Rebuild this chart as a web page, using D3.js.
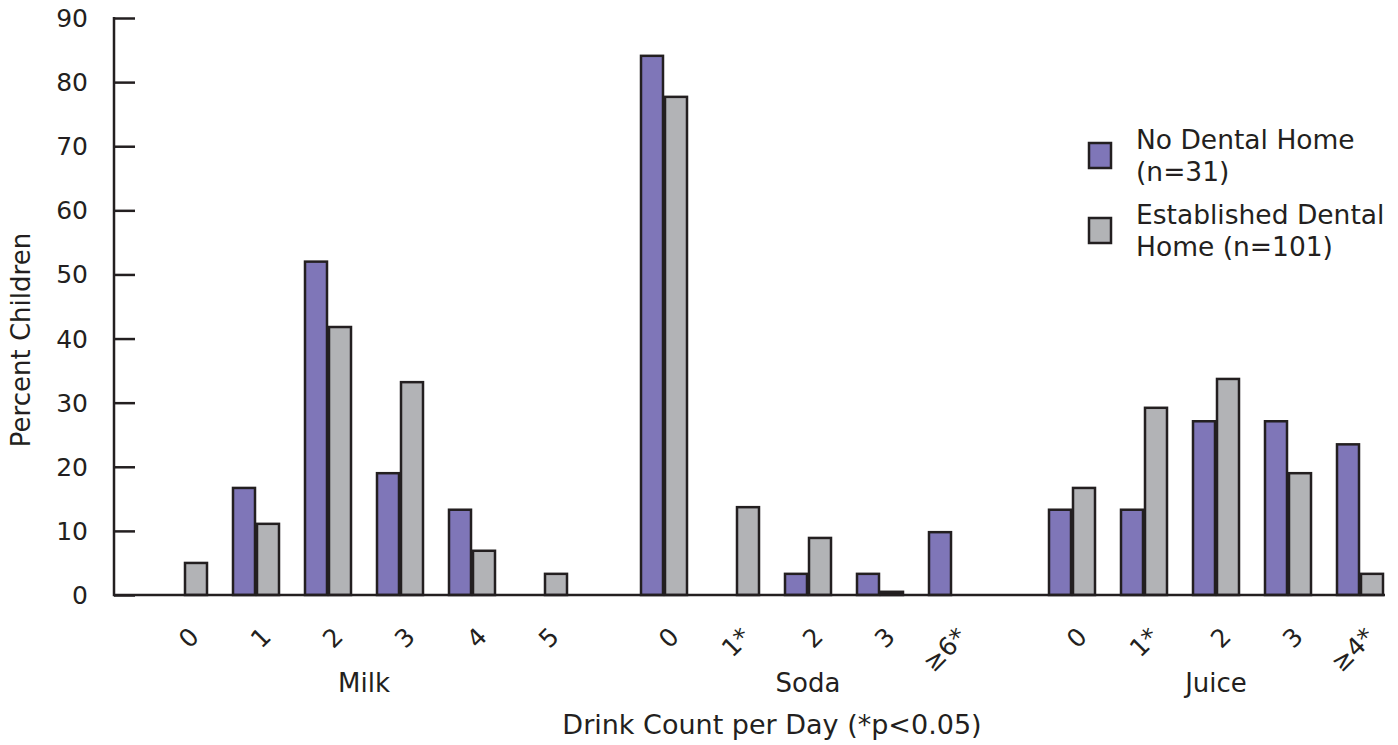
<!DOCTYPE html>
<html><head><meta charset="utf-8">
<script src="https://cdn.jsdelivr.net/npm/d3@7"></script>
<style>body{margin:0;background:#fff}text{font-family:"DejaVu Sans",Verdana,sans-serif;fill:#231f20}</style>
</head><body><svg id="c" width="1398" height="745"></svg>
<script>
const groups = ["Milk","Soda","Juice"];
const categories = [
  ["Milk","0"],["Milk","1"],["Milk","2"],["Milk","3"],["Milk","4"],["Milk","5"],
  ["Soda","0"],["Soda","1*"],["Soda","2"],["Soda","3"],["Soda","\u22656*"],
  ["Juice","0"],["Juice","1*"],["Juice","2"],["Juice","3"],["Juice","\u22654*"]
];
const noDentalHome = [0,16.7,52,19,13.3,0, 84.1,0,3.3,3.3,9.8, 13.3,13.3,27.1,27.1,23.5];
const establishedHome = [5,11.1,41.8,33.2,6.9,3.3, 77.7,13.7,8.9,0.5,0, 16.7,29.2,33.7,19,3.3];
const seriesNames = [["No Dental Home","(n=31)"],["Established Dental","Home (n=101)"]];
const colors = ["#7f76b8","#b2b3b6"];
const yTicks = [0,10,20,30,40,50,60,70,80,90];

const svg = d3.select("#c");
const stroke = "#231f20";
const pos = categories.map((c,i)=> i + groups.indexOf(c[0])*(2/3));
const x = d3.scaleLinear().domain([-70/72, pos[pos.length-1] + 25/72]).range([114,1385]);
const y = d3.scaleLinear().domain([0,90]).range([595,18]);
const slot = x(1)-x(0);
const bw = slot*22/72;

const yAxis = d3.axisRight(y).tickValues(yTicks).tickSize(21).tickFormat(()=>"");
const gy = svg.append("g").attr("transform","translate(114,0)").call(yAxis);
gy.select(".domain").remove();
gy.selectAll(".tick line").attr("stroke",stroke).attr("stroke-width",2.5);
svg.append("line").attr("x1",114).attr("x2",114).attr("y1",y(90)-1).attr("y2",y(0)+1.2).attr("stroke",stroke).attr("stroke-width",2.5);
svg.selectAll(".ylab").data(yTicks).join("text").attr("class","ylab")
  .attr("x",88).attr("y",d=>y(d)).attr("dy","0.36em").attr("text-anchor","end")
  .attr("font-size",25).text(d=>d);
svg.append("text").attr("transform",`translate(30,${340}) rotate(-90)`).attr("text-anchor","middle")
  .attr("font-size",26).text("Percent Children");

const series = [noDentalHome, establishedHome];
series.forEach((vals,s)=>{
  svg.append("g").selectAll("rect").data(vals).join("rect")
    .attr("x",(d,i)=> s===0 ? x(pos[i]) - bw - 1 : x(pos[i]) + 1)
    .attr("y",d=>y(d)).attr("width",bw).attr("height",d=>y(0)-y(d))
    .attr("fill",d=> d<1 ? stroke : colors[s]).attr("stroke",stroke).attr("stroke-width",2.5)
    .attr("display",d=> d===0 ? "none" : null);
});
svg.append("line").attr("x1",114).attr("x2",1385).attr("y1",y(0)).attr("y2",y(0)).attr("stroke",stroke).attr("stroke-width",2.5);

svg.selectAll(".xlab").data(categories).join("text").attr("class","xlab")
  .attr("transform",(d,i)=>`translate(${x(pos[i])+4},${626}) rotate(-45)`)
  .attr("text-anchor","end").attr("dy","0.7em").attr("font-size",25).text(d=>d[1]);

groups.forEach(g=>{
  const idx = categories.map((c,i)=>c[0]===g?i:-1).filter(i=>i>=0);
  const cx = (x(pos[idx[0]]) + x(pos[idx[idx.length-1]]))/2;
  svg.append("text").attr("x",cx).attr("y",692).attr("text-anchor","middle").attr("font-size",26).text(g);
});
svg.append("text").attr("x",772).attr("y",734).attr("text-anchor","middle").attr("font-size",27).text("Drink Count per Day (*p<0.05)");

const lg = svg.append("g");
seriesNames.forEach((nm,s)=>{
  const yy = 143 + s*75;
  lg.append("rect").attr("x",1089).attr("y",yy).attr("width",22).attr("height",25)
    .attr("fill",colors[s]).attr("stroke",stroke).attr("stroke-width",2.5);
  lg.append("text").attr("x",1136).attr("y",yy+6).attr("font-size",26.5).text(nm[0]);
  lg.append("text").attr("x",1136).attr("y",yy+38).attr("font-size",26.5).text(nm[1]);
});
</script></body></html>
